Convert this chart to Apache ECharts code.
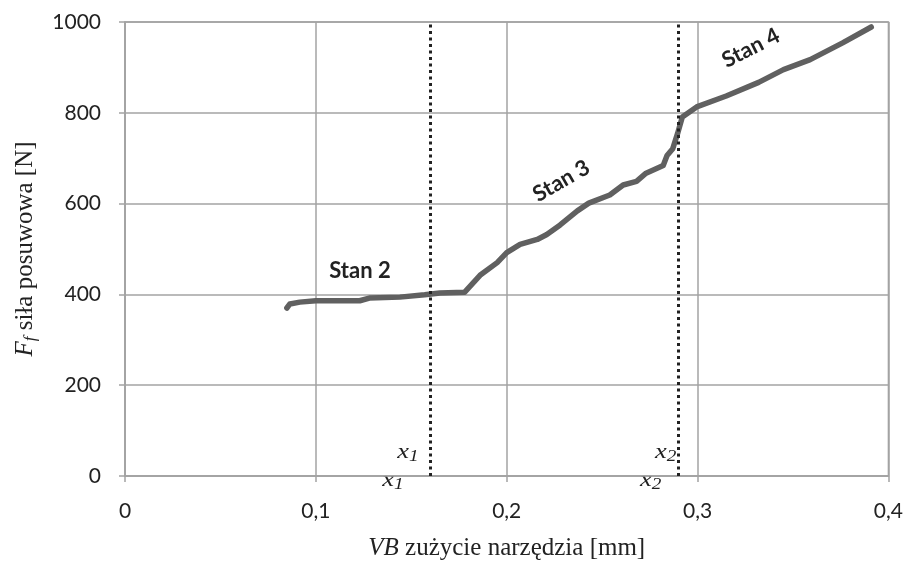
<!DOCTYPE html>
<html>
<head>
<meta charset="utf-8">
<script src="https://cdn.jsdelivr.net/npm/echarts@6/dist/echarts.min.js"></script>
<style>
  html, body { margin: 0; padding: 0; background: #fff; }
  #chart { width: 906px; height: 566px; }
</style>
</head>
<body>
<div id="chart"></div>
<script>
// zużycie VB [mm] i siła posuwowa Ff [N]
var vb = [0.0848, 0.0864, 0.0916, 0.1, 0.123, 0.128, 0.144, 0.157, 0.165, 0.178,
  0.186, 0.195, 0.2, 0.207, 0.216, 0.221, 0.228, 0.237, 0.243, 0.254, 0.261, 0.268,
  0.273, 0.282, 0.284, 0.287, 0.2895, 0.292, 0.2995, 0.315, 0.332, 0.345, 0.359, 0.376, 0.391];
var ff = [370, 379, 383, 386, 386, 392, 394, 399, 403, 405,
  442, 470, 492, 510, 521, 532, 553, 584, 601, 619, 641, 649,
  667, 684, 706, 721, 754, 791, 813, 837, 867, 895, 917, 954, 989];

var xTicks = [0, 0.1, 0.2, 0.3, 0.4];
var yTicks = [0, 200, 400, 600, 800, 1000];
var granice = [0.157, 0.292];      // x1, x2
var stany = [
  { name: 'Stan 2', x: 0.107, y: 452, rot: 0 },
  { name: 'Stan 3', x: 0.2147, y: 616, rot: 30 },
  { name: 'Stan 4', x: 0.3136, y: 912, rot: 27 }
];

var myChart = echarts.init(document.getElementById('chart'));
var gray = '#a3a3a3';
var sans = 'Lato';
var serif = 'Liberation Serif';

var option = {
  animation: false,
  grid: {
    left: 125, right: 17, top: 22, bottom: 85,
    show: true, borderColor: gray, borderWidth: 1.5
  },
  xAxis: {
    type: 'value',
    min: xTicks[0], max: xTicks[xTicks.length - 1], interval: 0.1,
    axisLine: { lineStyle: { color: gray, width: 1.5 } },
    axisTick: { show: true, length: 6, lineStyle: { color: gray, width: 1.5 } },
    splitLine: { lineStyle: { color: gray, width: 1.5 } },
    axisLabel: {
      color: '#222', fontSize: 21, fontFamily: sans, margin: 25,
      formatter: function (v) { return String(+v.toFixed(1)).replace('.', ','); }
    },
    name: '{i|VB} zużycie narzędzia [mm]',
    nameLocation: 'middle', nameGap: 60,
    nameTextStyle: {
      color: '#222', fontSize: 25, fontFamily: serif,
      rich: { i: { fontStyle: 'italic', fontSize: 25, fontFamily: serif, color: '#222' } }
    }
  },
  yAxis: {
    type: 'value',
    min: yTicks[0], max: yTicks[yTicks.length - 1], interval: 200,
    axisLine: { show: true, lineStyle: { color: gray, width: 1.5 } },
    axisTick: { show: true, length: 6, lineStyle: { color: gray, width: 1.5 } },
    splitLine: { lineStyle: { color: gray, width: 1.5 } },
    axisLabel: { color: '#222', fontSize: 21, fontFamily: sans, margin: 24,
      formatter: function (v) { return String(v); } },
    name: '{i|F}{s|f} siła posuwowa [N]',
    nameLocation: 'middle', nameGap: 86, nameRotate: 90,
    nameTextStyle: {
      color: '#222', fontSize: 25, fontFamily: serif,
      rich: {
        i: { fontStyle: 'italic', fontSize: 25, fontFamily: serif, color: '#222' },
        s: { fontStyle: 'italic', fontSize: 17, fontFamily: serif, color: '#222', padding: [10, 0, 0, 0] }
      }
    }
  },
  series: [{
    type: 'line',
    data: vb.map(function (v, i) { return [v, ff[i]]; }),
    showSymbol: false,
    lineStyle: { color: '#606060', width: 5.5, cap: 'round', join: 'round' },
    markLine: {
      silent: true, symbol: 'none',
      label: { show: false },
      lineStyle: { color: '#222', width: 3, type: [3, 3.5] },
      data: granice.map(function (g) { return { xAxis: g }; })
    }
  }]
};
myChart.setOption(option);

// podpisy stanów i granic
var graphics = [];
stany.forEach(function (s) {
  var p = myChart.convertToPixel({ gridIndex: 0 }, [s.x, s.y]);
  graphics.push({
    type: 'text', x: p[0], y: p[1], rotation: s.rot * Math.PI / 180,
    style: { text: s.name, fontSize: 22, fontWeight: 'bold', fontFamily: sans,
      fill: '#222', align: 'left', verticalAlign: 'middle' }
  });
});
granice.forEach(function (g, i) {
  var p = myChart.convertToPixel({ gridIndex: 0 }, [g, 0]);
  var lab = '{x|x}{s|' + (i + 1) + '}';
  var rich = {
    x: { fontSize: 22, fontStyle: 'italic', fontFamily: serif, fill: '#222' },
    s: { fontSize: 16, fontStyle: 'italic', fontFamily: serif, fill: '#222', padding: [9, 0, 0, 0] }
  };
  graphics.push({
    type: 'text', x: p[0] - 6, y: p[1] - 24, scaleX: 1.2,
    style: { text: lab, rich: rich, align: 'right', verticalAlign: 'middle' }
  });
  graphics.push({
    type: 'text', x: p[0] - 21, y: p[1] + 4, scaleX: 1.2,
    style: { text: lab, rich: rich, align: 'right', verticalAlign: 'middle' }
  });
});
myChart.setOption({ graphic: graphics });
</script>
</body>
</html>
